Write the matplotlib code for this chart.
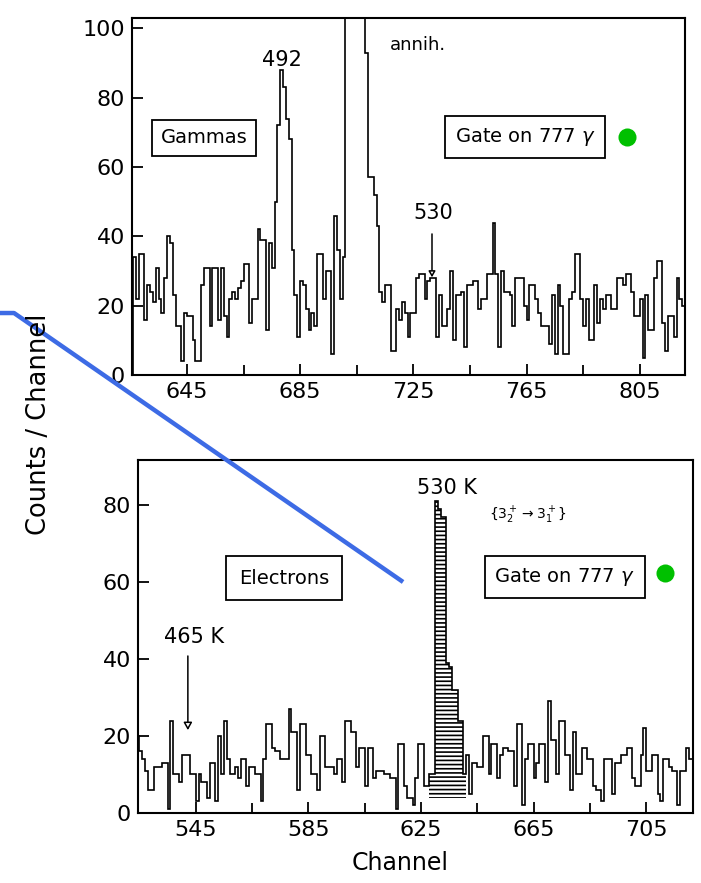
import matplotlib

matplotlib.use("Agg")
import matplotlib.pyplot as plt
import numpy as np
from matplotlib.lines import Line2D

plt.rcParams.update({
    "font.family": "DejaVu Sans",
    "axes.linewidth": 1.5,
    "hatch.linewidth": 1.2,
})

# gamma spectrum gated on the 777 keV line, one value per channel from 626
GAMMA_FIRST_CH = 626
gamma_counts = [
    34, 22, 35, 35, 16, 26, 24, 21, 31, 22, 18, 28, 40, 38, 23, 14, 14, 4, 18, 17,    # 626-645
    17, 10, 4, 4, 26, 31, 31, 14, 31, 31, 16, 31, 17, 11, 22, 24, 22, 25, 27, 32,     # 646-665
    32, 15, 22, 22, 42, 39, 39, 13, 38, 31, 50, 72, 88, 83, 74, 68, 36, 23, 11, 27,   # 666-685
    26, 19, 13, 18, 14, 35, 35, 22, 30, 30, 6, 46, 36, 22, 34, 160, 160, 160, 160, 160,  # 686-705
    160, 160, 93, 57, 57, 52, 43, 24, 21, 26, 26, 7, 7, 19, 16, 21, 18, 11, 18, 18,   # 706-725
    28, 29, 29, 22, 27, 28, 28, 11, 23, 14, 14, 19, 30, 10, 23, 23, 24, 8, 26, 26,    # 726-745
    27, 27, 19, 22, 22, 29, 29, 44, 29, 8, 30, 24, 24, 23, 14, 28, 28, 28, 20, 16,    # 746-765
    26, 26, 22, 18, 14, 14, 14, 9, 23, 6, 26, 20, 6, 6, 22, 24, 35, 35, 22, 14,       # 766-785
    22, 10, 10, 26, 15, 22, 19, 23, 23, 19, 19, 28, 28, 26, 29, 29, 24, 17, 17, 22,   # 786-805
    5, 23, 13, 13, 28, 33, 33, 15, 7, 17, 17, 11, 28, 22, 20,                         # 806-820
]

# conversion-electron spectrum with the same gate, one value per channel from 524
ELECTRON_FIRST_CH = 524
electron_counts = [
    20, 16, 14, 11, 6, 6, 12, 12, 12, 13, 13, 1, 24, 10, 10, 8, 15, 15, 15, 10,       # 524-543
    10, 3, 10, 8, 8, 4, 13, 13, 3, 20, 10, 24, 14, 10, 10, 12, 9, 14, 14, 7,          # 544-563
    12, 12, 10, 10, 3, 14, 23, 23, 17, 16, 16, 14, 14, 14, 27, 21, 21, 6, 23, 23,     # 564-583
    15, 15, 10, 10, 6, 20, 20, 12, 12, 12, 10, 14, 14, 8, 24, 24, 21, 21, 12, 17,     # 584-603
    17, 7, 17, 17, 9, 11, 11, 11, 10, 10, 9, 9, 1, 18, 18, 7, 4, 4, 2, 9,             # 604-623
    18, 18, 7, 7, 10, 10, 81, 79, 77, 77, 39, 38, 32, 32, 24, 24, 10, 15, 5, 13,      # 624-643
    13, 12, 12, 20, 20, 10, 18, 18, 9, 15, 17, 17, 16, 16, 7, 23, 23, 2, 14, 18,      # 644-663
    18, 9, 13, 18, 18, 8, 29, 19, 19, 10, 24, 24, 15, 15, 6, 21, 10, 10, 17, 17,      # 664-683
    14, 14, 7, 6, 6, 3, 14, 14, 14, 5, 13, 13, 15, 15, 17, 17, 9, 7, 7, 15,           # 684-703
    22, 11, 11, 15, 15, 5, 3, 14, 14, 12, 11, 11, 2, 11, 11, 17, 14, 14,              # 704-721
]

# channels of the 530 K line that carry the hatched fill (first, last + 1)
K530_FILL = (628, 641)
K530_FLOOR = 4

GAMMA_TICKS = [645, 685, 725, 765, 805]
GAMMA_MINOR = [665, 705, 745, 785]
ELECTRON_TICKS = [545, 585, 625, 665, 705]
ELECTRON_MINOR = [565, 605, 645, 685]

GREEN = "#00C000"
BLUE = "#3D6BE5"
# pointer line across the figure, in figure fractions
pointer_x = [0.0, 0.02, 0.575]
pointer_y = [0.6455, 0.6455, 0.3409]

fig = plt.figure(figsize=(7.01, 8.83), dpi=100)
ax_g = fig.add_axes([0.1883, 0.5753, 0.7889, 0.4043])
ax_e = fig.add_axes([0.1969, 0.0793, 0.7917, 0.3998])


def style_axis(ax, ticks, minor, yticks):
    ax.set_xticks(ticks)
    ax.set_xticks(minor, minor=True)
    ax.set_yticks(yticks)
    ax.tick_params(which="both", direction="in", width=1.3, labelsize=16, pad=5)
    ax.tick_params(which="major", length=8)
    ax.tick_params(which="minor", length=7)


# upper panel: gammas
g = np.asarray(gamma_counts)
g_edges = np.arange(GAMMA_FIRST_CH, GAMMA_FIRST_CH + len(g) + 1)
ax_g.stairs(g, g_edges, color="black", lw=1.2)
ax_g.set_xlim(625.6, 821)
ax_g.set_ylim(0, 103)
style_axis(ax_g, GAMMA_TICKS, GAMMA_MINOR, [0, 20, 40, 60, 80, 100])

ax_g.text(678.6, 90.9, "492", ha="center", va="center", fontsize=15)
ax_g.text(716.7, 95.2, "annih.", ha="left", va="center", fontsize=13)
ax_g.text(731.9, 46.7, "530", ha="center", va="center", fontsize=15)
ax_g.annotate("", xy=(731.6, 27.4), xytext=(731.6, 41.5),
              arrowprops=dict(arrowstyle="-|>,head_length=0.35,head_width=0.2",
                              fc="white", ec="black", lw=1.1))
box = dict(boxstyle="square,pad=0.5", fc="white", ec="black", lw=1.3)
ax_g.text(651, 68.4, "Gammas", ha="center", va="center", fontsize=14,
          bbox=dict(boxstyle="square,pad=0.45", fc="white", ec="black", lw=1.3))
ax_g.text(764.4, 68.7, r"Gate on 777 $\gamma$", ha="center", va="center",
          fontsize=14, bbox=box)
ax_g.plot([800.5], [68.7], "o", color=GREEN, ms=13, mec="none")

# lower panel: electrons
e = np.asarray(electron_counts)
e_edges = np.arange(ELECTRON_FIRST_CH, ELECTRON_FIRST_CH + len(e) + 1)
i0, i1 = K530_FILL[0] - ELECTRON_FIRST_CH, K530_FILL[1] - ELECTRON_FIRST_CH
ax_e.stairs(e[i0:i1], e_edges[i0:i1 + 1], baseline=K530_FLOOR, fill=True,
            facecolor="white", edgecolor="black", hatch="----", lw=0)
ax_e.stairs(e, e_edges, color="black", lw=1.2)
ax_e.set_xlim(524.5, 721.6)
ax_e.set_ylim(0, 91.7)
style_axis(ax_e, ELECTRON_TICKS, ELECTRON_MINOR, [0, 20, 40, 60, 80])

ax_e.text(634.4, 84.4, "530 K", ha="center", va="center", fontsize=15)
ax_e.text(663, 77.4, r"$\{3^+_2 \rightarrow 3^+_1\}$", ha="center", va="center",
          fontsize=10)
ax_e.text(544.3, 45.7, "465 K", ha="center", va="center", fontsize=15)
ax_e.annotate("", xy=(542.2, 20.8), xytext=(542.2, 41.5),
              arrowprops=dict(arrowstyle="-|>,head_length=0.45,head_width=0.25",
                              fc="white", ec="black", lw=1.1))
ax_e.text(576.4, 61, "Electrons", ha="center", va="center", fontsize=14,
          bbox=dict(boxstyle="square,pad=0.65", fc="white", ec="black", lw=1.3))
ax_e.text(676, 61.3, r"Gate on 777 $\gamma$", ha="center", va="center",
          fontsize=14, bbox=box)
ax_e.plot([711.8], [62.3], "o", color=GREEN, ms=13, mec="none")

fig.text(0.055, 0.519, "Counts / Channel", rotation=90, ha="center", va="center",
         fontsize=18.5)
fig.text(0.571, 0.023, "Channel", ha="center", va="center", fontsize=17)

fig.add_artist(Line2D(pointer_x, pointer_y, transform=fig.transFigure,
                      color=BLUE, lw=3.2, solid_capstyle="butt"))

fig.savefig("out.png", dpi=100)
